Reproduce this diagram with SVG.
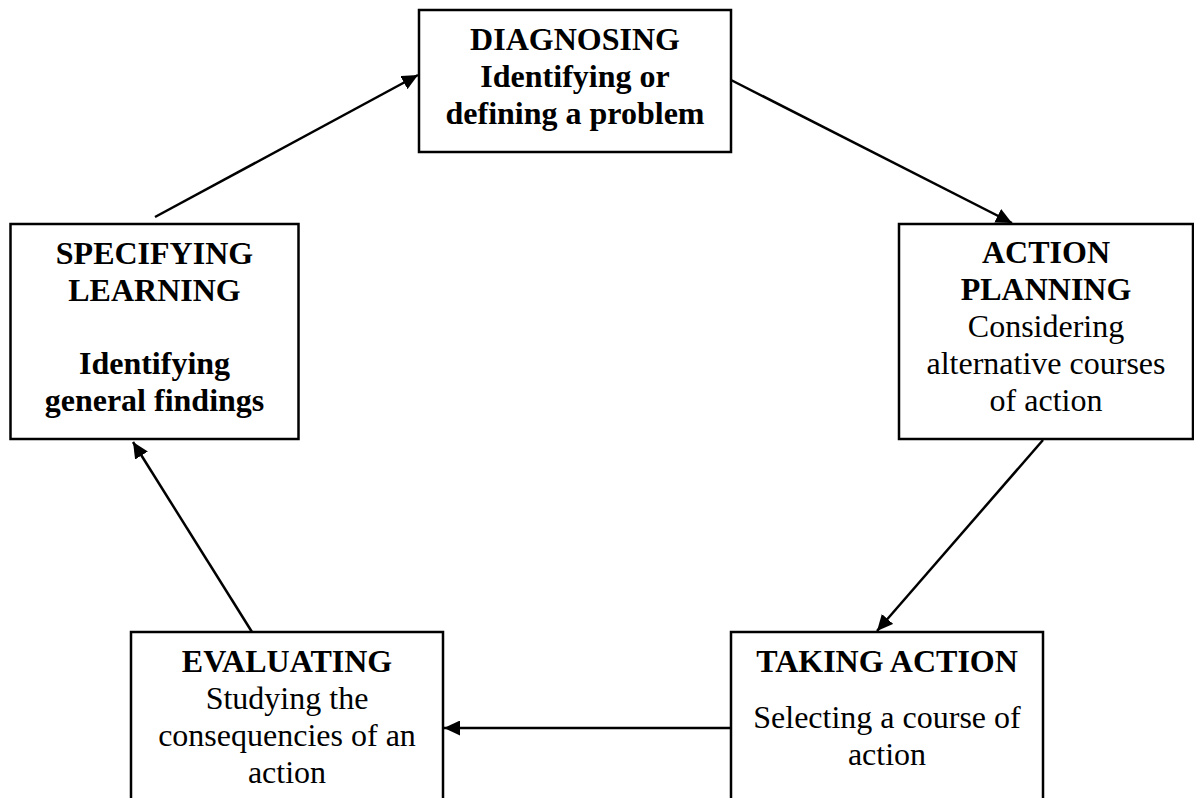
<svg xmlns="http://www.w3.org/2000/svg" width="1194" height="798" viewBox="0 0 1194 798">
<defs>
<style>
.box{fill:#fff;stroke:#000;stroke-width:2.5}
.t{font-family:"Liberation Serif","Times New Roman",serif;font-size:32px;fill:#000;text-anchor:middle}
.b{font-weight:bold}
.c{stroke:#000;stroke-width:2.5;fill:none;marker-end:url(#ah)}
</style>
<marker id="ah" markerUnits="userSpaceOnUse" markerWidth="17" markerHeight="15" refX="16" refY="7.5" orient="auto">
<path d="M0,0 L16,7.5 L0,15 z" fill="#000"/>
</marker>
</defs>
<rect width="1194" height="798" fill="#fff"/>
<g id="connectors">
<line class="c" x1="155" y1="217" x2="418" y2="75"/>
<line class="c" x1="731" y1="80" x2="1012" y2="223"/>
<line class="c" x1="1043" y1="440" x2="877" y2="631"/>
<line class="c" x1="731" y1="728" x2="444" y2="728"/>
<line class="c" x1="252" y1="632" x2="133" y2="442"/>
</g>
<g id="diagnosing">
<rect class="box" x="419" y="10" width="312" height="142"/>
<text class="t b" x="575" y="50">DIAGNOSING</text>
<text class="t b" x="575" y="87">Identifying or</text>
<text class="t b" x="575" y="124">defining a problem</text>
</g>
<g id="action-planning">
<rect class="box" x="899" y="224" width="294" height="215"/>
<text class="t b" x="1046" y="263">ACTION</text>
<text class="t b" x="1046" y="300">PLANNING</text>
<text class="t" x="1046" y="337">Considering</text>
<text class="t" x="1046" y="374">alternative courses</text>
<text class="t" x="1046" y="411">of action</text>
</g>
<g id="taking-action">
<rect class="box" x="731" y="632" width="312" height="180"/>
<text class="t b" x="887" y="672">TAKING ACTION</text>
<text class="t" x="887" y="728">Selecting a course of</text>
<text class="t" x="887" y="765">action</text>
</g>
<g id="evaluating">
<rect class="box" x="131" y="632" width="312" height="180"/>
<text class="t b" x="287" y="672">EVALUATING</text>
<text class="t" x="287" y="709">Studying the</text>
<text class="t" x="287" y="746">consequencies of an</text>
<text class="t" x="287" y="783">action</text>
</g>
<g id="specifying-learning">
<rect class="box" x="10.5" y="224" width="288" height="215"/>
<text class="t b" x="154.5" y="264">SPECIFYING</text>
<text class="t b" x="154.5" y="301">LEARNING</text>
<text class="t b" x="154.5" y="374">Identifying</text>
<text class="t b" x="154.5" y="411">general findings</text>
</g>
</svg>
